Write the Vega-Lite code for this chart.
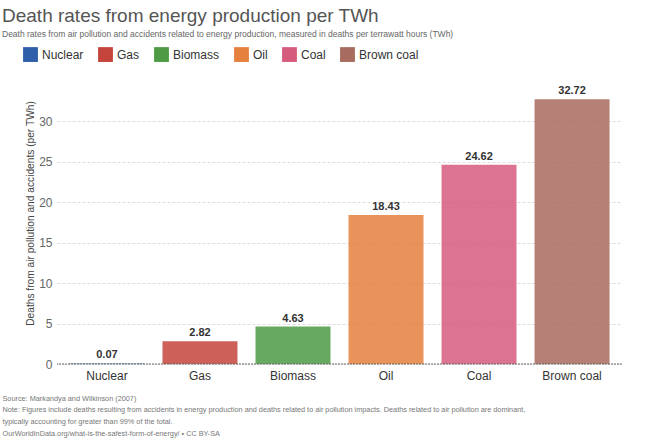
{
  "$schema": "https://vega.github.io/schema/vega-lite/v6.json",
  "autosize": {"type": "none"},
  "width": 565,
  "height": 267,
  "padding": {"left": 57, "top": 97, "right": 43, "bottom": 76},
  "background": "white",
  "config": {"font": "Liberation Sans", "view": {"stroke": null}},
  "title": {
    "text": "Death rates from energy production per TWh",
    "subtitle": "Death rates from air pollution and accidents related to energy production, measured in deaths per terrawatt hours (TWh)",
    "anchor": "start",
    "frame": "group",
    "dx": -55,
    "offset": 9,
    "fontSize": 19,
    "fontWeight": "normal",
    "color": "#555555",
    "subtitleFontSize": 8.5,
    "subtitleColor": "#666666",
    "subtitlePadding": 4
  },
  "data": {
    "values": [
      {"source": "Nuclear", "deaths": 0.07},
      {"source": "Gas", "deaths": 2.82},
      {"source": "Biomass", "deaths": 4.63},
      {"source": "Oil", "deaths": 18.43},
      {"source": "Coal", "deaths": 24.62},
      {"source": "Brown coal", "deaths": 32.72}
    ]
  },
  "encoding": {
    "x": {
      "field": "source",
      "type": "nominal",
      "sort": ["Nuclear", "Gas", "Biomass", "Oil", "Coal", "Brown coal"],
      "scale": {"paddingInner": 0.194, "paddingOuter": 0.134},
      "axis": {
        "labelAngle": 0,
        "labelFontSize": 12,
        "labelColor": "#333333",
        "labelPadding": 6,
        "domain": false,
        "ticks": false,
        "title": [
          "Source: Markandya and Wilkinson (2007)",
          "Note: Figures include deaths resulting from accidents in energy production and deaths related to air pollution impacts. Deaths related to air pollution are dominant,",
          "typically accounting for greater than 99% of the total.",
          "OurWorldInData.org/what-is-the-safest-form-of-energy/ • CC BY-SA"
        ],
        "titleAnchor": "start",
        "titleAlign": "left",
        "titleX": -55,
        "titleY": 36,
        "titleBaseline": "alphabetic",
        "titleFontSize": 7.3,
        "titleFontWeight": "normal",
        "titleColor": "#777777",
        "titleLineHeight": 11.8
      }
    }
  },
  "layer": [
    {
      "mark": {"type": "bar", "opacity": 0.85},
      "encoding": {
        "y": {
          "field": "deaths",
          "type": "quantitative",
          "scale": {"domain": [0, 33], "nice": false},
          "axis": {
            "values": [0, 5, 10, 15, 20, 25, 30],
            "title": "Deaths from air pollution and accidents (per TWh)",
            "titleFontSize": 10.2,
            "titleFontWeight": "normal",
            "titleColor": "#444444",
            "titlePadding": 3,
            "titleY": 116,
            "labelFontSize": 12,
            "labelColor": "#666666",
            "labelPadding": 5,
            "domain": false,
            "ticks": false,
            "grid": true,
            "gridColor": "#dddddd",
            "gridDash": [3, 2]
          }
        },
        "color": {
          "field": "source",
          "type": "nominal",
          "sort": ["Nuclear", "Gas", "Biomass", "Oil", "Coal", "Brown coal"],
          "scale": {
            "domain": ["Nuclear", "Gas", "Biomass", "Oil", "Coal", "Brown coal"],
            "range": ["#2f5fa8", "#c4443c", "#4e9a45", "#e5803e", "#d65c7e", "#a86b5f"]
          },
          "legend": {
            "orient": "none",
            "legendX": -34,
            "legendY": -50,
            "direction": "horizontal",
            "title": null,
            "symbolType": "square",
            "symbolSize": 220,
            "symbolOpacity": 1,
            "symbolStrokeWidth": 0,
            "labelFontSize": 12,
            "labelColor": "#333333",
            "columnPadding": 14
          }
        }
      }
    },
    {
      "mark": {"type": "text", "baseline": "bottom", "dy": -3, "fontSize": 11, "fontWeight": "bold", "color": "#333333"},
      "encoding": {
        "y": {"field": "deaths", "type": "quantitative"},
        "text": {"field": "deaths", "type": "quantitative", "format": ".2f"}
      }
    },
    {
      "data": {"values": [{"zero": 0}]},
      "mark": {"type": "rule", "color": "#666666", "strokeDash": [2, 1], "strokeWidth": 1},
      "encoding": {"y": {"field": "zero", "type": "quantitative"}, "x": null}
    }
  ]
}
